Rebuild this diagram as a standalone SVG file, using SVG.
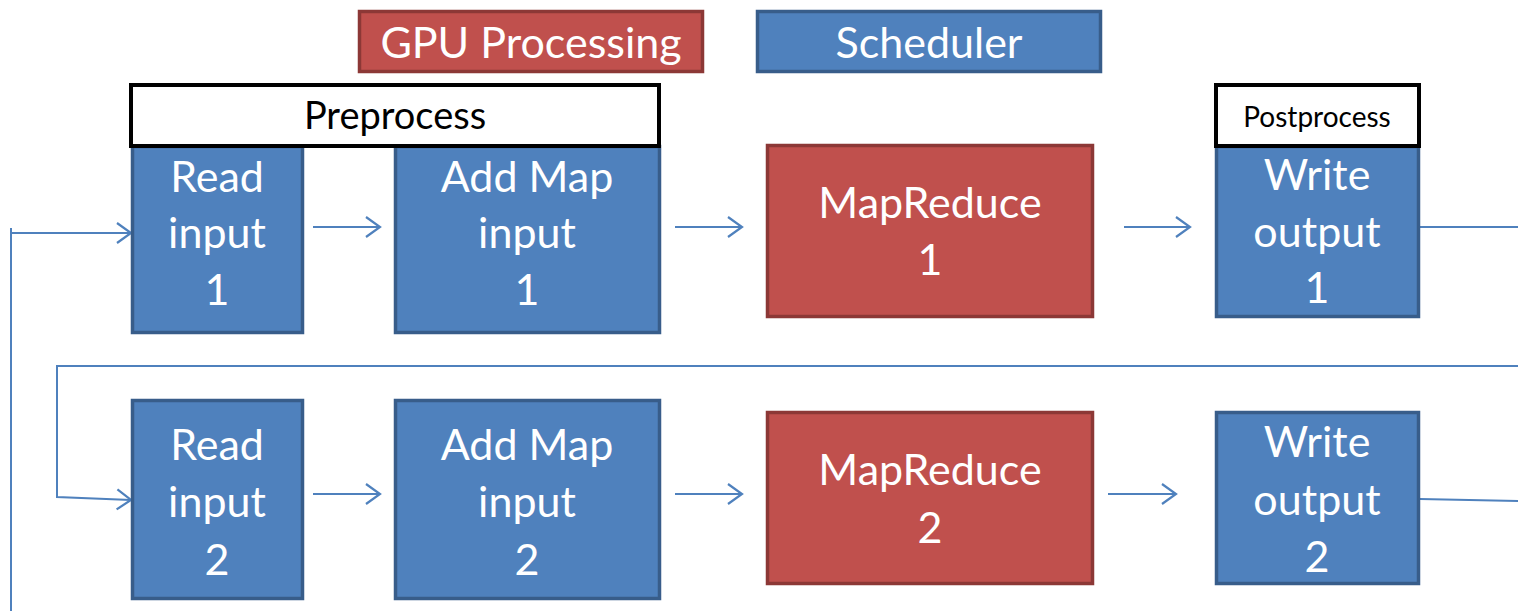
<svg xmlns="http://www.w3.org/2000/svg" width="1518" height="611" viewBox="0 0 1518 611">
  <style>
    .blue { fill: #4F81BD; stroke: #385D8A; stroke-width: 3.5; }
    .red { fill: #C0504D; stroke: #8C3836; stroke-width: 3.5; }
    .stage { fill: #FFFFFF; stroke: #000000; stroke-width: 4; }
    .lbl { font-family: Lato, "Open Sans", sans-serif; font-size: 43px; fill: #FFFFFF; text-anchor: middle; }
    .stagelbl { font-family: Lato, "Open Sans", sans-serif; fill: #000000; text-anchor: middle; }
    .conn { fill: none; stroke: #4F81BD; stroke-width: 2; }
  </style>
  <defs>
    <marker id="arrow" markerUnits="userSpaceOnUse" markerWidth="30" markerHeight="30" viewBox="-20 -15 30 30" refX="0" refY="0" orient="auto">
      <path d="M-14,-10 L0,0 L-14,10" fill="none" stroke="#4F81BD" stroke-width="2.2"/>
    </marker>
  </defs>

  <rect width="1518" height="611" fill="#FFFFFF"/>

  <!-- legend -->
  <g id="legend-gpu">
    <rect class="red" x="359.5" y="11.5" width="343" height="60"/>
    <text class="lbl" x="531" y="58">GPU Processing</text>
  </g>
  <g id="legend-scheduler">
    <rect class="blue" x="757.5" y="11.5" width="343" height="60"/>
    <text class="lbl" x="929" y="58">Scheduler</text>
  </g>

  <!-- connectors -->
  <g id="connectors">
    <path class="conn" d="M11,611 V228"/>
    <path class="conn" d="M11,233 H131" marker-end="url(#arrow)"/>
    <path class="conn" d="M313,227 H380" marker-end="url(#arrow)"/>
    <path class="conn" d="M675,227 H742" marker-end="url(#arrow)"/>
    <path class="conn" d="M1124,227 H1190" marker-end="url(#arrow)"/>
    <path class="conn" d="M1420,227 H1518"/>
    <path class="conn" d="M1518,366 H57 V497 L131,500" marker-end="url(#arrow)"/>
    <path class="conn" d="M313,494 H380" marker-end="url(#arrow)"/>
    <path class="conn" d="M675,494 H742" marker-end="url(#arrow)"/>
    <path class="conn" d="M1108,494 H1176" marker-end="url(#arrow)"/>
    <path class="conn" d="M1420,499 L1518,501"/>
  </g>

  <!-- row 1 -->
  <g id="read-input-1">
    <rect class="blue" x="132.5" y="146.5" width="170" height="186"/>
    <text class="lbl" x="217" y="192">Read</text>
    <text class="lbl" x="217" y="248">input</text>
    <text class="lbl" x="217" y="305">1</text>
  </g>
  <g id="add-map-input-1">
    <rect class="blue" x="395.5" y="146.5" width="264" height="186"/>
    <text class="lbl" x="527" y="192">Add Map</text>
    <text class="lbl" x="527" y="248">input</text>
    <text class="lbl" x="527" y="305">1</text>
  </g>
  <g id="preprocess">
    <rect class="stage" x="131" y="85" width="528" height="61"/>
    <text class="stagelbl" x="395" y="129" font-size="38">Preprocess</text>
  </g>
  <g id="mapreduce-1">
    <rect class="red" x="767.5" y="145.5" width="325" height="171"/>
    <text class="lbl" x="930" y="218">MapReduce</text>
    <text class="lbl" x="930" y="275">1</text>
  </g>
  <g id="write-output-1">
    <rect class="blue" x="1216.5" y="146.5" width="202" height="170"/>
    <text class="lbl" x="1317" y="190">Write</text>
    <text class="lbl" x="1317" y="247">output</text>
    <text class="lbl" x="1317" y="303">1</text>
  </g>
  <g id="postprocess">
    <rect class="stage" x="1216" y="85" width="203" height="61"/>
    <text class="stagelbl" x="1317" y="127" font-size="28">Postprocess</text>
  </g>

  <!-- row 2 -->
  <g id="read-input-2">
    <rect class="blue" x="132.5" y="400.5" width="170" height="198"/>
    <text class="lbl" x="217" y="460">Read</text>
    <text class="lbl" x="217" y="517">input</text>
    <text class="lbl" x="217" y="575">2</text>
  </g>
  <g id="add-map-input-2">
    <rect class="blue" x="395.5" y="400.5" width="264" height="198"/>
    <text class="lbl" x="527" y="460">Add Map</text>
    <text class="lbl" x="527" y="517">input</text>
    <text class="lbl" x="527" y="575">2</text>
  </g>
  <g id="mapreduce-2">
    <rect class="red" x="767.5" y="412.5" width="325" height="171"/>
    <text class="lbl" x="930" y="485">MapReduce</text>
    <text class="lbl" x="930" y="543">2</text>
  </g>
  <g id="write-output-2">
    <rect class="blue" x="1216.5" y="412.5" width="202" height="171"/>
    <text class="lbl" x="1317" y="457">Write</text>
    <text class="lbl" x="1317" y="515">output</text>
    <text class="lbl" x="1317" y="572">2</text>
  </g>
</svg>
